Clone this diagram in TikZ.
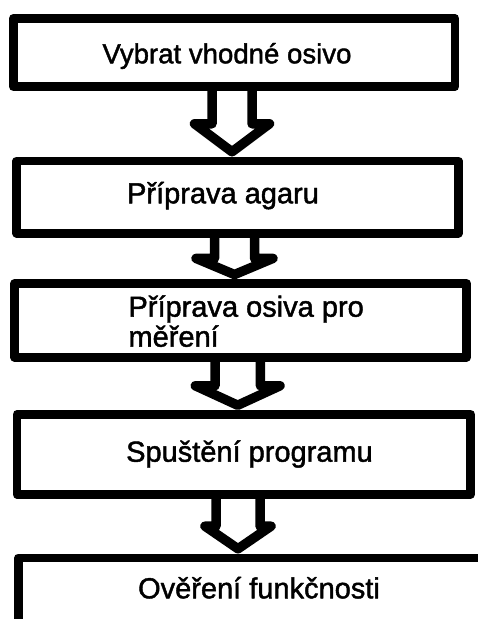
\documentclass[tikz,border=0pt]{standalone}
\usepackage{fontspec}
\setmainfont{Liberation Sans}
\newfontfamily\boxfont{Liberation Sans}[BoldFont=Liberation Sans,BoldFeatures={FakeBold=1.5}]
\usetikzlibrary{calc}
\begin{document}
\begin{tikzpicture}[x=1pt,y=-1pt,line join=round,
    stepbox/.style={draw=black,line width=8.6pt,outer sep=0pt,inner sep=0pt,fill=white},
    steptext/.style={inner sep=0pt,font=\boxfont\bfseries\fontsize{29}{30}\selectfont},
    flowarrow/.style={draw=black,line width=9.5pt,line join=round}]
    \clip (0,0) rectangle (478,619);
    % boxes
    \node[stepbox,minimum width=441.8pt,minimum height=68.4pt] (b1) at (234.1,52.5) {};
    \node[stepbox,minimum width=441.6pt,minimum height=72.4pt] (b2) at (237.5,197) {};
    \node[stepbox,minimum width=452.2pt,minimum height=73.7pt] (b3) at (240.6,320.4) {};
    \node[stepbox,minimum width=453.5pt,minimum height=80.3pt] (b4) at (243.8,454.4) {};
    \node[stepbox,minimum width=500pt,minimum height=100pt] (b5) at (268.3,607.8) {};
    % texts
    \node[steptext,anchor=base,font=\boxfont\bfseries\fontsize{27.6}{30}\selectfont] (t1) at (227,63.3) {Vybrat vhodné osivo};
    \node[steptext,anchor=base] (t2) at (223,203.3) {Příprava agaru};
    \node[steptext,anchor=base west,align=left] (t3) at (128.3,346.7) {Příprava osiva pro\\měření};
    \node[steptext,anchor=base] (t4) at (249.5,461.7) {Spuštění programu};
    \node[steptext,anchor=base] (t5) at (259,598.3) {Ověření funkčnosti};
    % block arrows
    \foreach \a/\b/\ax/\hw/\HW in {b1/b2/232/20/37.5,b2/b3/234.5/20/38.5,b3/b4/237.7/22.7/42.4,b4/b5/238/22/33}{
        \coordinate (ax) at (\ax,0);
        \coordinate (s) at (ax |- \a.south);
        \coordinate (t) at (ax |- \b.north);
        \coordinate (m) at ($(s)!0.5!(t)$);
        \draw[flowarrow] ($(s)+(-\hw,0)$) -- ($(m)+(-\hw,0)$) -- ($(m)+(-\HW,0)$)
            -- ($(t)+(0,-9)$) -- ($(m)+(\HW,0)$) -- ($(m)+(\hw,0)$) -- ($(s)+(\hw,0)$);
    }
\end{tikzpicture}
\end{document}
